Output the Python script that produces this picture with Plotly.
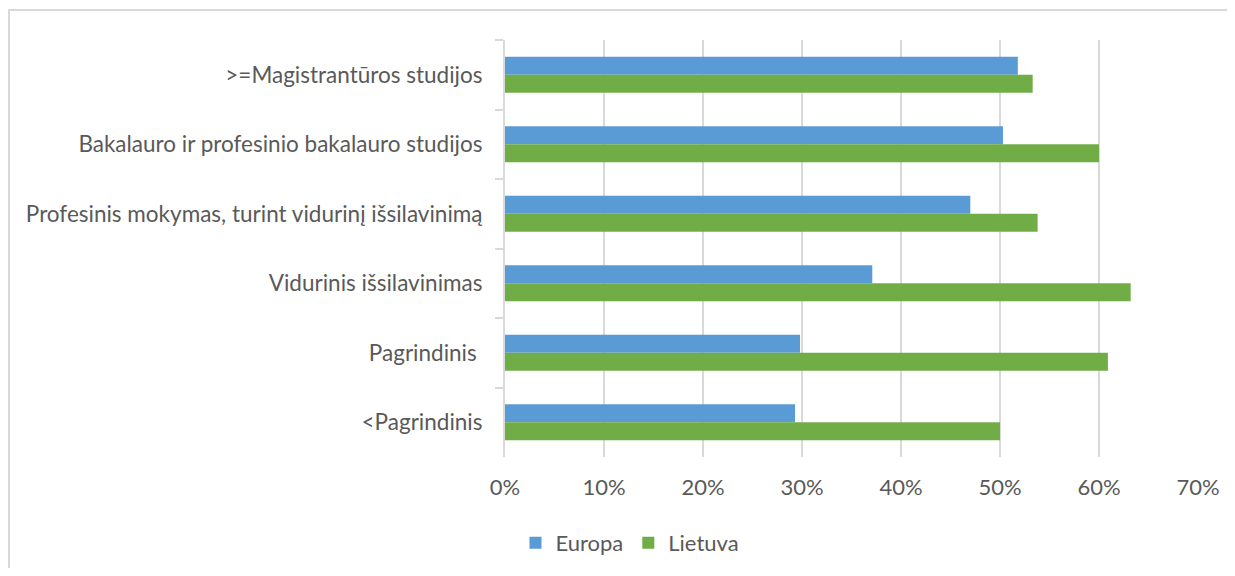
import plotly.graph_objects as go

categories = [
    ">=Magistrantūros studijos",
    "Bakalauro ir profesinio bakalauro studijos",
    "Profesinis mokymas, turint vidurinį išsilavinimą",
    "Vidurinis išsilavinimas",
    "Pagrindinis ",
    "<Pagrindinis",
]
europa = [0.518, 0.503, 0.470, 0.371, 0.298, 0.293]
lietuva = [0.533, 0.600, 0.538, 0.632, 0.609, 0.500]
tick_vals = [0, 0.1, 0.2, 0.3, 0.4, 0.5, 0.6, 0.7]
tick_text = ["0%", "10%", "20%", "30%", "40%", "50%", "60%", "70%"]

FONT = "Lato, 'Open Sans', sans-serif"
GRID = "#D9D9D9"
TXT = "#595959"

fig = go.Figure()
fig.add_trace(go.Bar(name="Europa", y=categories, x=europa, orientation="h",
                     marker=dict(color="#5B9BD5", line=dict(width=0))))
fig.add_trace(go.Bar(name="Lietuva", y=categories, x=lietuva, orientation="h",
                     marker=dict(color="#70AD47", line=dict(width=0))))

# page has an 8px body margin, so figure coords = page coords - 8
W, H = 1219, 560
L, T = 497, 32
R = W - 1190
B = H - 449
pw = W - L - R
ph = H - T - B

fig.update_layout(
    width=W, height=H,
    margin=dict(l=L, r=R, t=T, b=B, autoexpand=False),
    plot_bgcolor="white", paper_bgcolor="white",
    barmode="group", bargap=0.48, bargroupgap=0,
    font=dict(family=FONT, size=22, color=TXT),
    showlegend=True,
    legend=dict(orientation="h", xref="container", yref="container",
                x=622 / W, xanchor="center",
                y=(H - 535) / H, yanchor="middle",
                font=dict(size=22, color=TXT), itemwidth=30,
                traceorder="normal"),
    xaxis=dict(range=[0, 0.7], tickvals=tick_vals, ticktext=tick_text,
               showgrid=True, gridcolor=GRID, gridwidth=2,
               zeroline=False, showline=False, automargin=False,
               ticks="", ticklabelstandoff=15,
               tickfont=dict(size=22, color=TXT)),
    yaxis=dict(autorange="reversed", showline=True, linecolor=GRID, linewidth=2,
               ticks="outside", ticklen=8, tickcolor=GRID, tickwidth=2,
               tickson="boundaries", showgrid=False, ticklabelstandoff=16,
               automargin=False,
               tickfont=dict(size=22.5, color=TXT)),
    shapes=[
        dict(type="line", xref="paper", yref="paper",
             x0=(0 - L) / pw, x1=(W + 5 - L) / pw,
             y0=1 + (T - 2) / ph, y1=1 + (T - 2) / ph,
             line=dict(color=GRID, width=2)),
        dict(type="line", xref="paper", yref="paper",
             x0=(1 - L) / pw, x1=(1 - L) / pw,
             y0=1 + (T - 2) / ph, y1=-(B + 5) / ph,
             line=dict(color=GRID, width=2)),
    ],
)

fig.write_html("out.html")
